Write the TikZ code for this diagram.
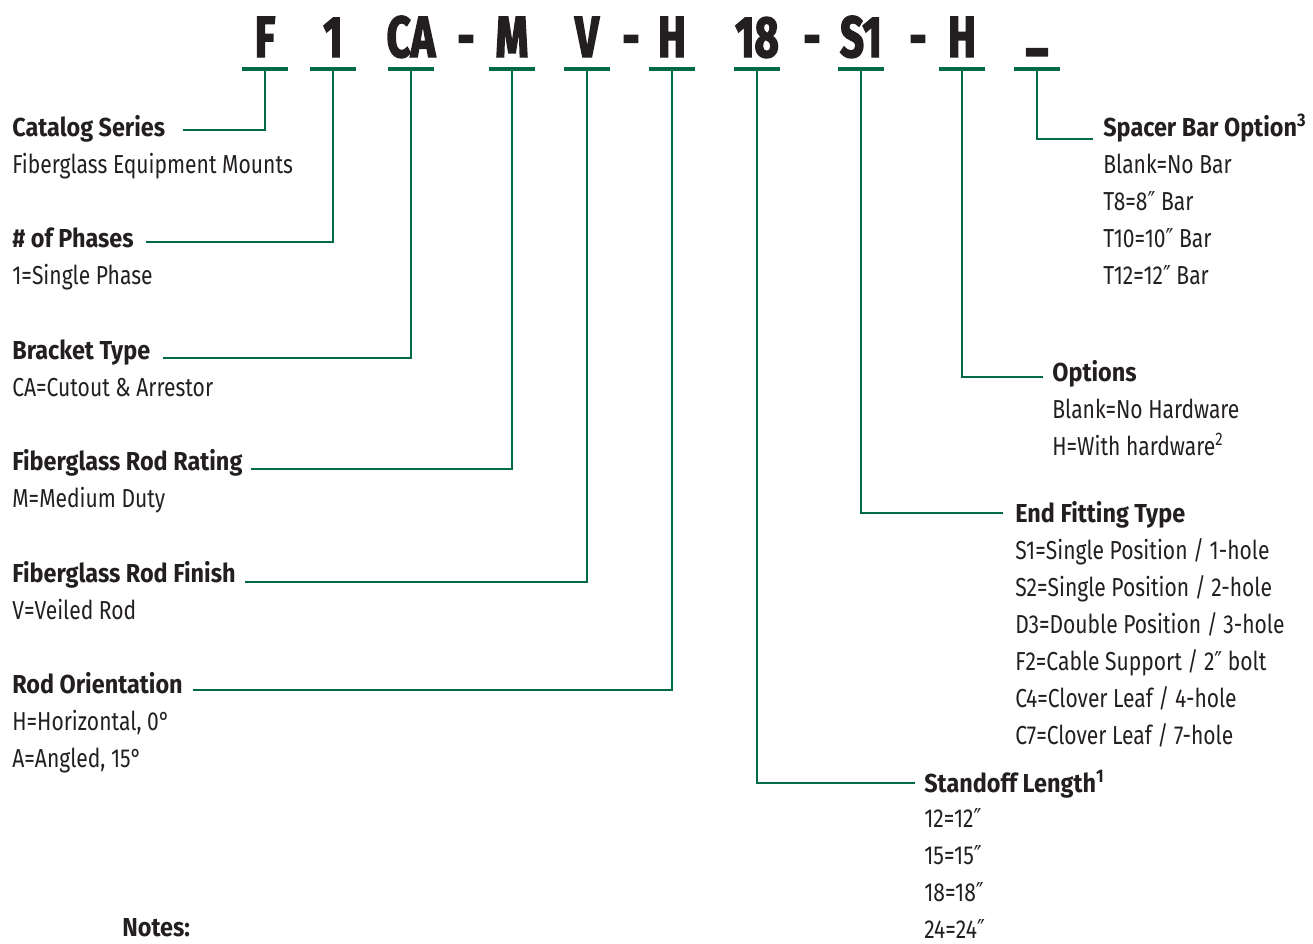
\documentclass[tikz,border=0pt]{standalone}
\usepackage{fontspec}
\setmainfont{Fira Sans}[FakeStretch=0.81,BoldFeatures={FakeStretch=0.90}]
\newfontfamily\codefont{Fira Sans}[FakeStretch=0.72,FakeBold=2.5]
\newfontfamily\primefont{DejaVu Sans}[FakeStretch=0.81]
\newcommand{\inch}{{\primefont ″}}
\usetikzlibrary{positioning,calc}
\definecolor{linegreen}{RGB}{0,106,72}
\definecolor{inkdark}{RGB}{35,31,32}

\begin{document}
\begin{tikzpicture}[x=0.02cm,y=-0.02cm,
  code/.style={font=\codefont\bfseries\fontsize{33}{33}\selectfont,text=inkdark,anchor=base,inner sep=0pt},
  title/.style={font=\bfseries\fontsize{14.8}{21}\selectfont,text=inkdark,anchor=base west,inner sep=0pt},
  desc/.style={font=\fontsize{14.8}{21}\selectfont,text=inkdark,anchor=base west,inner sep=0pt,align=left},
  bar/.style={draw=linegreen,line width=1.8pt},
  lead/.style={draw=linegreen,line width=1.3pt}]
\useasboundingbox (0,0) rectangle (1313,944);

\foreach \x/\n/\t in {265/F/F,333/1/1,411/CA/CA,512/M/M,587/V/V,672/H/H,757/18/18,861/S1/S1,962/Hw/H}{
  \node[code] (c\n) at (\x,57) {\t};
  \coordinate (b\n) at (\x,69);
}
\foreach \x/\n in {466/1,631/2,812/3,918/4}
  \node[code] (d\n) at (\x,57) {-};
\node[code] (cBl) at (1037,46) {\_};
\coordinate (bBl) at (1037,69);
\foreach \n in {F,1,CA,M,V,H,18,S1,Hw,Bl}
  \draw[bar] ($(b\n)+(-23,0)$) -- ($(b\n)+(23,0)$);

% descriptions are anchored at the baseline of their last line
\node[title] (cat) at (12,136) {Catalog Series};
\node[desc] (catd) at (12,173) {Fiberglass Equipment Mounts};
\node[title] (pha) at (12,247) {\# of Phases};
\node[desc] (phad) at (12,284) {1=Single Phase};
\node[title] (brk) at (12,359) {Bracket Type};
\node[desc] (brkd) at (12,396) {CA=Cutout \& Arrestor};
\node[title] (rat) at (12,470) {Fiberglass Rod Rating};
\node[desc] (ratd) at (12,507) {M=Medium Duty};
\node[title] (fin) at (12,582) {Fiberglass Rod Finish};
\node[desc] (find) at (12,619) {V=Veiled Rod};
\node[title] (ori) at (12,693) {Rod Orientation};
\node[desc] (orid) at (12,767) {H=Horizontal, 0°\\A=Angled, 15°};

\node[title] (spc) at (1103,136) {Spacer Bar Option\textsuperscript{3}};
\node[desc] (spcd) at (1103,284) {Blank=No Bar\\T8=8\inch{} Bar\\T10=10\inch{} Bar\\T12=12\inch{} Bar};
\node[title] (opt) at (1052,381) {Options};
\node[desc] (optd) at (1052,455) {Blank=No Hardware\\H=With hardware\textsuperscript{2}};
\node[title] (end) at (1015,522) {End Fitting Type};
\node[desc] (endd) at (1015,744) {S1=Single Position / 1-hole\\S2=Single Position / 2-hole\\D3=Double Position / 3-hole\\F2=Cable Support / 2\inch{} bolt\\C4=Clover Leaf / 4-hole\\C7=Clover Leaf / 7-hole};
\node[title] (std) at (924,792) {Standoff Length\textsuperscript{1}};
\node[desc] (stdd) at (924,938) {12=12\inch\\15=15\inch\\18=18\inch\\24=24\inch};

\node[title] (notes) at (122,936) {Notes:};

\draw[lead] (bF) |- ($(cat.base east)+(17,-6)$);
\draw[lead] (b1) |- ($(pha.base east)+(12,-5)$);
\draw[lead] (bCA) |- ($(brk.base east)+(12,-1)$);
\draw[lead] (bM) |- ($(rat.base east)+(8,-1)$);
\draw[lead] (bV) |- ($(fin.base east)+(9,0)$);
\draw[lead] (bH) |- ($(ori.base east)+(10,-3)$);
\draw[lead] (b18) |- ($(std.base west)+(-9,-9)$);
\draw[lead] (bS1) |- ($(end.base west)+(-12,-9)$);
\draw[lead] (bHw) |- ($(opt.base west)+(-9,-4)$);
\draw[lead] (bBl) |- ($(spc.base west)+(-10,3)$);
\end{tikzpicture}
\end{document}
